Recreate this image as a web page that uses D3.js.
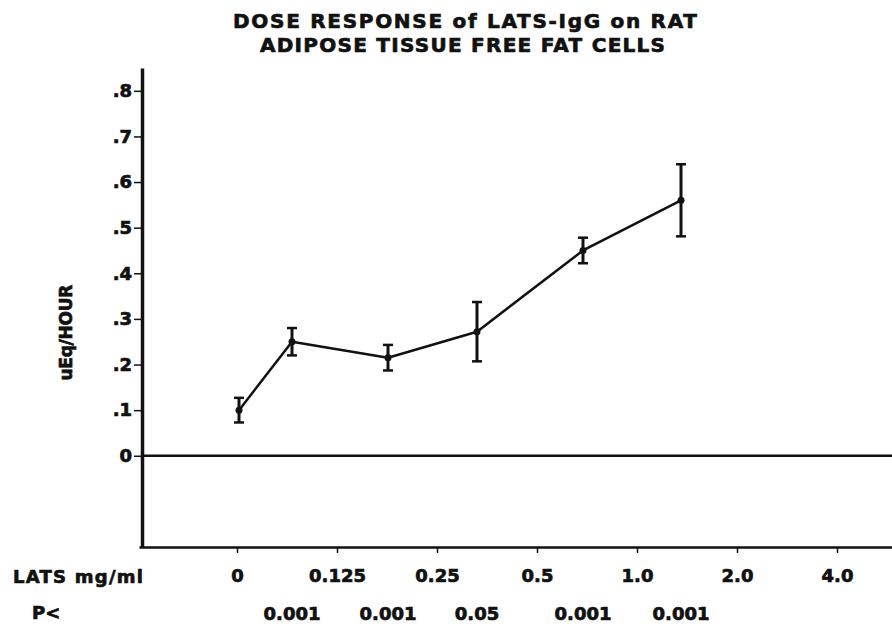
<!DOCTYPE html>
<html>
<head>
<meta charset="utf-8">
<script src="https://cdn.jsdelivr.net/npm/d3@7"></script>
<style>
  html, body { margin: 0; padding: 0; background: #fff; }
  svg { display: block; }
  text { font-family: "DejaVu Sans", sans-serif; font-weight: bold; fill: #111; stroke: #111; stroke-width: 0.7px; }
</style>
</head>
<body>
<svg id="chart" width="892" height="628"></svg>
<script>
// Dose levels along the horizontal axis (mg/ml of LATS)
const doseLabels = ["0", "0.125", "0.25", "0.5", "1.0", "2.0", "4.0"];
// Position of each measurement along the dose axis (in dose-slot units)
const pointDose = [0.02, 0.55, 1.51, 2.40, 3.46, 4.44];
// Mean lipolytic response, uEq/hour
const response = [0.10, 0.25, 0.215, 0.272, 0.45, 0.56];
// Standard error of each mean
const stdErr = [0.027, 0.03, 0.028, 0.065, 0.028, 0.079];
// Significance vs. control for each treated group
const pValues = ["0.001", "0.001", "0.05", "0.001", "0.001"];
// Vertical axis ticks
const yTicks = [0, 0.1, 0.2, 0.3, 0.4, 0.5, 0.6, 0.7, 0.8];
const yTickLabels = ["0", ".1", ".2", ".3", ".4", ".5", ".6", ".7", ".8"];

const svg = d3.select("#chart");

const x = d3.scaleLinear().domain([-0.98, 6.55]).range([139, 892]);
const y = d3.scaleLinear().domain([-0.2, 0.85]).range([547, 68]);

// Title
const title = svg.append("g");
title.append("text")
  .attr("x", 465).attr("y", 28)
  .attr("text-anchor", "middle")
  .attr("font-size", 20)
  .attr("textLength", 464).attr("lengthAdjust", "spacing")
  .text("DOSE RESPONSE of LATS-IgG on RAT");
title.append("text")
  .attr("x", 462.5).attr("y", 52)
  .attr("text-anchor", "middle")
  .attr("font-size", 20)
  .attr("textLength", 405).attr("lengthAdjust", "spacing")
  .text("ADIPOSE TISSUE FREE FAT CELLS");

// Vertical axis
const yAxis = svg.append("g")
  .attr("transform", "translate(142,0)")
  .call(d3.axisLeft(y)
    .tickValues(yTicks)
    .tickFormat((d, i) => yTickLabels[i])
    .tickSize(8)
    .tickPadding(2)
    .tickSizeOuter(0));
yAxis.select(".domain").attr("stroke", "#111").attr("stroke-width", 3.5);
yAxis.selectAll(".tick line").attr("stroke", "#111").attr("stroke-width", 1.5);
yAxis.selectAll(".tick text")
  .attr("font-size", 18)
  .attr("font-family", "DejaVu Sans, sans-serif")
  .attr("font-weight", "bold")
  .attr("fill", "#111");

// Zero reference line
svg.append("line")
  .attr("x1", 142).attr("x2", 892)
  .attr("y1", y(0)).attr("y2", y(0))
  .attr("stroke", "#111").attr("stroke-width", 2.5);

// Horizontal (dose) axis
const xAxis = svg.append("g")
  .attr("transform", `translate(0,${y(-0.2)})`)
  .call(d3.axisBottom(x)
    .tickValues(d3.range(doseLabels.length))
    .tickFormat((d, i) => doseLabels[i])
    .tickSize(6)
    .tickPadding(16)
    .tickSizeOuter(0));
xAxis.select(".domain").attr("stroke", "#111").attr("stroke-width", 2.5);
xAxis.selectAll(".tick line").attr("stroke", "#111").attr("stroke-width", 1.5);
xAxis.selectAll(".tick text")
  .attr("font-size", 18)
  .attr("font-family", "DejaVu Sans, sans-serif")
  .attr("font-weight", "bold")
  .attr("fill", "#111");

// Row captions
svg.append("text")
  .attr("x", 13).attr("y", 583)
  .attr("font-size", 18)
  .attr("textLength", 130).attr("lengthAdjust", "spacing")
  .text("LATS mg/ml");
svg.append("text")
  .attr("x", 32).attr("y", 619)
  .attr("font-size", 18)
  .text("P<");

// P-values under each treated group
svg.append("g").selectAll("text")
  .data(pValues)
  .join("text")
  .attr("x", (d, i) => x(pointDose[i + 1]))
  .attr("y", 620)
  .attr("text-anchor", "middle")
  .attr("font-size", 18)
  .text(d => d);

// Y-axis title
svg.append("text")
  .attr("transform", `translate(72,${y(0.27)}) rotate(-90)`)
  .attr("text-anchor", "middle")
  .attr("font-size", 17)
  .attr("textLength", 96).attr("lengthAdjust", "spacing")
  .text("uEq/HOUR");

// Data
const pts = response.map((v, i) => ({ x: pointDose[i], y: v, e: stdErr[i] }));

svg.append("path")
  .datum(pts)
  .attr("fill", "none")
  .attr("stroke", "#111")
  .attr("stroke-width", 2.5)
  .attr("stroke-linejoin", "round")
  .attr("d", d3.line().x(d => x(d.x)).y(d => y(d.y)));

const bars = svg.append("g").attr("stroke", "#111");
bars.selectAll("line.stem")
  .data(pts).join("line").attr("class", "stem")
  .attr("x1", d => x(d.x)).attr("x2", d => x(d.x))
  .attr("y1", d => y(d.y - d.e)).attr("y2", d => y(d.y + d.e))
  .attr("stroke-width", 3);
bars.selectAll("line.capTop")
  .data(pts).join("line").attr("class", "capTop")
  .attr("x1", d => x(d.x) - 5).attr("x2", d => x(d.x) + 5)
  .attr("y1", d => y(d.y + d.e)).attr("y2", d => y(d.y + d.e))
  .attr("stroke-width", 2.5);
bars.selectAll("line.capBot")
  .data(pts).join("line").attr("class", "capBot")
  .attr("x1", d => x(d.x) - 5).attr("x2", d => x(d.x) + 5)
  .attr("y1", d => y(d.y - d.e)).attr("y2", d => y(d.y - d.e))
  .attr("stroke-width", 2.5);

svg.append("g").selectAll("circle")
  .data(pts).join("circle")
  .attr("cx", d => x(d.x)).attr("cy", d => y(d.y))
  .attr("r", 3.5)
  .attr("fill", "#111");
</script>
</body>
</html>
